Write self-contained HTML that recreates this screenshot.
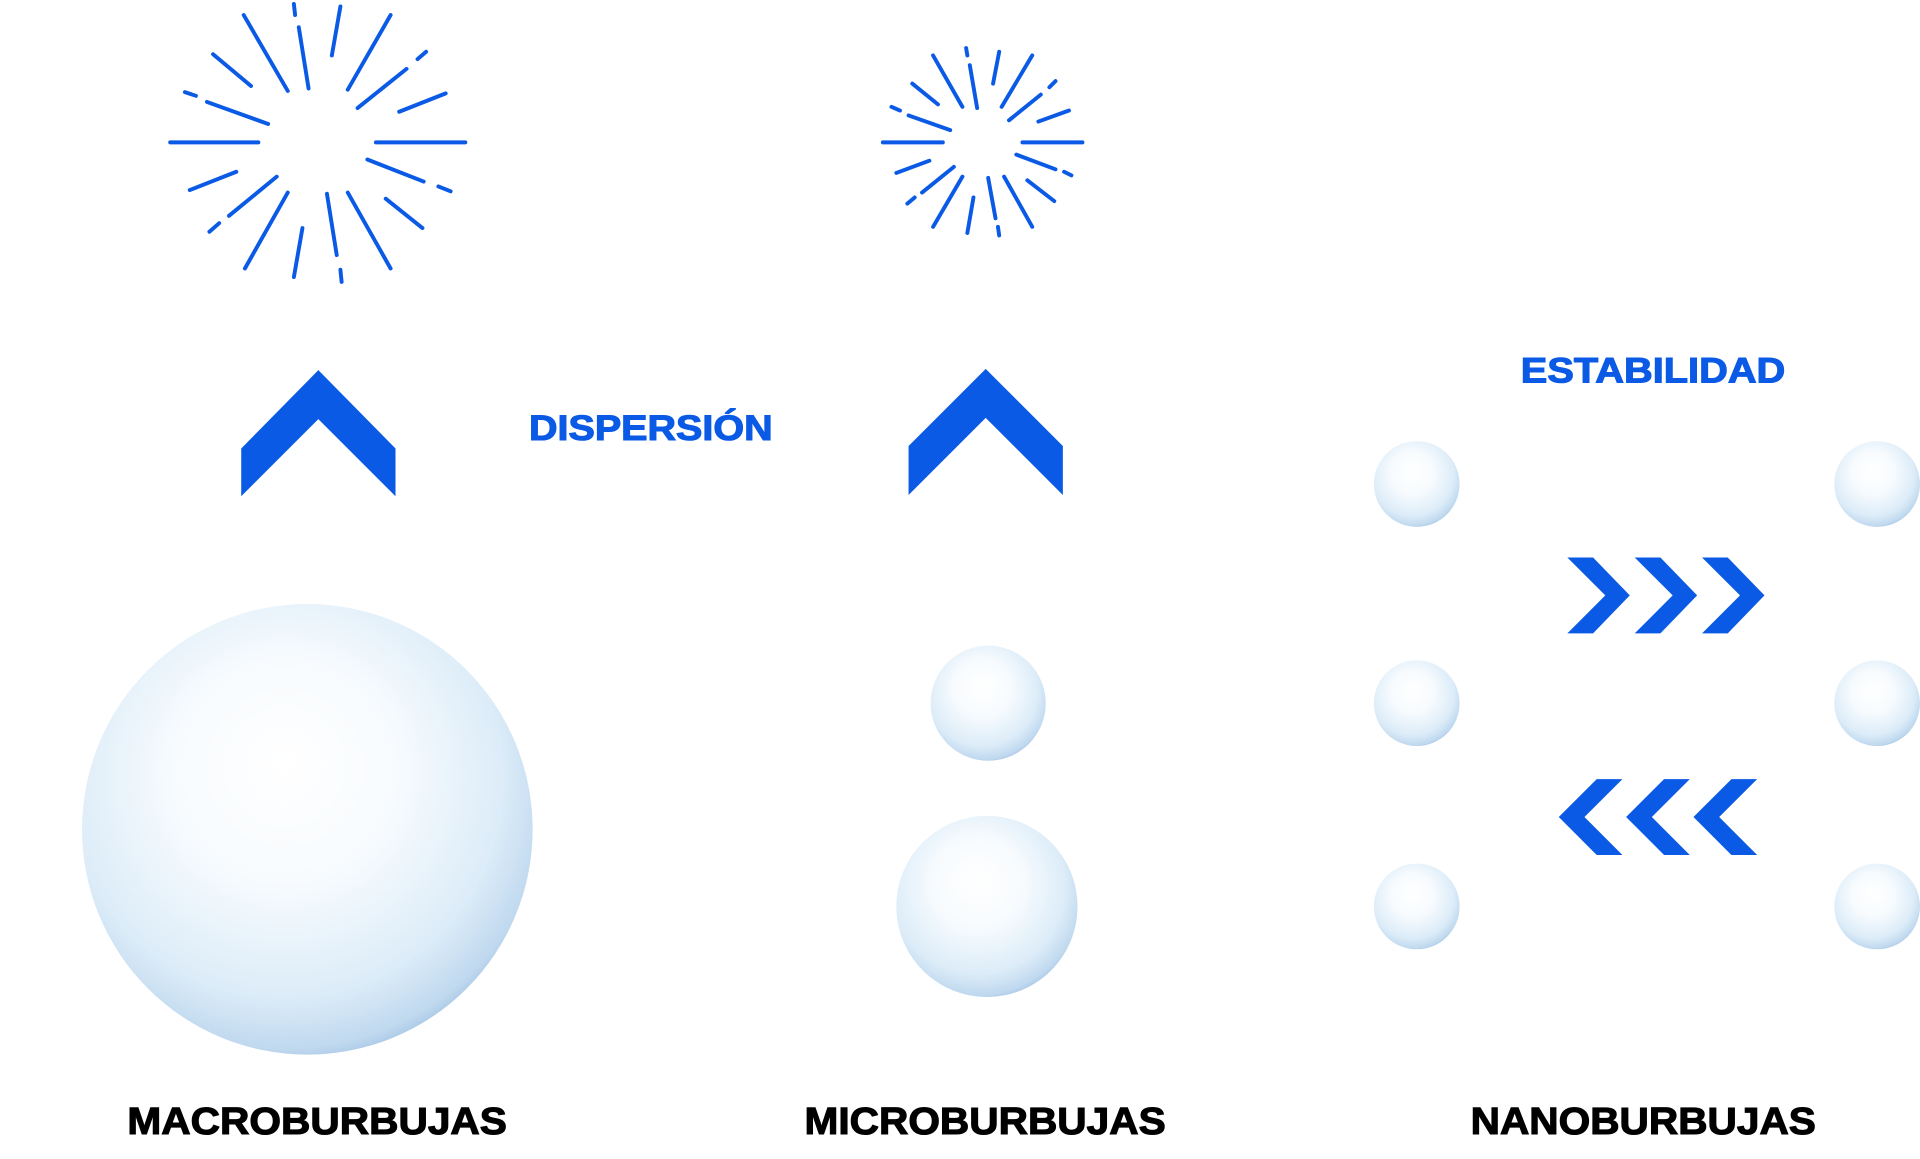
<!DOCTYPE html>
<html><head><meta charset="utf-8"><style>
html,body{margin:0;padding:0;background:#fff;}
svg{display:block;}
</style></head><body>
<svg width="1920" height="1159" viewBox="0 0 1568 946" xmlns="http://www.w3.org/2000/svg">
<defs>
<radialGradient id="bub" cx="0.45" cy="0.4" r="0.62" fx="0.45" fy="0.35">
<stop offset="0" stop-color="#ffffff"/>
<stop offset="0.4" stop-color="#f7fbfe"/>
<stop offset="0.78" stop-color="#dcecf8"/>
<stop offset="0.95" stop-color="#c0d9ef"/>
<stop offset="1" stop-color="#a9c8e6"/>
</radialGradient>
</defs>
<g stroke="#0a5ae6" stroke-width="3.2" stroke-linecap="round" fill="none">
<line x1="240" y1="3" x2="241" y2="12"/><line x1="244" y1="22" x2="252" y2="72"/>
<line x1="278" y1="5" x2="271" y2="45"/><line x1="319" y1="12" x2="284" y2="73"/>
<line x1="348" y1="42" x2="341" y2="48"/><line x1="332" y1="56" x2="292" y2="88"/>
<line x1="364" y1="76" x2="326" y2="91"/><line x1="307" y1="116" x2="380" y2="116"/>
<line x1="300" y1="130" x2="346" y2="148"/><line x1="358" y1="152" x2="368" y2="156"/>
<line x1="315" y1="162" x2="345" y2="186"/><line x1="284" y1="157" x2="319" y2="219"/>
<line x1="267" y1="158" x2="275" y2="208"/><line x1="278" y1="220" x2="279" y2="230"/>
<line x1="247" y1="186" x2="240" y2="226"/><line x1="235" y1="157" x2="200" y2="219"/>
<line x1="226" y1="144" x2="187" y2="176"/><line x1="179" y1="182" x2="171" y2="189"/>
<line x1="193" y1="140" x2="155" y2="155"/><line x1="211" y1="116" x2="139" y2="116"/>
<line x1="151" y1="75" x2="160" y2="78"/><line x1="169" y1="83" x2="219" y2="101"/>
<line x1="174" y1="44" x2="205" y2="70"/><line x1="199" y1="12" x2="235" y2="74"/>
<line x1="789" y1="39" x2="790" y2="45"/><line x1="792" y1="53" x2="798" y2="88"/>
<line x1="816" y1="42" x2="811" y2="68"/><line x1="843" y1="45" x2="818" y2="87"/>
<line x1="862" y1="66" x2="857" y2="71"/><line x1="850" y1="77" x2="824" y2="98"/>
<line x1="873" y1="90" x2="848" y2="99"/><line x1="835" y1="116" x2="884" y2="116"/>
<line x1="830" y1="126" x2="862" y2="138"/><line x1="869" y1="140" x2="875" y2="143"/>
<line x1="839" y1="147" x2="861" y2="164"/><line x1="820" y1="144" x2="843" y2="185"/>
<line x1="807" y1="145" x2="813" y2="178"/><line x1="815" y1="185" x2="816" y2="192"/>
<line x1="795" y1="161" x2="790" y2="190"/><line x1="786" y1="144" x2="762" y2="185"/>
<line x1="779" y1="136" x2="753" y2="157"/><line x1="747" y1="161" x2="741" y2="166"/>
<line x1="759" y1="131" x2="732" y2="141"/><line x1="770" y1="116" x2="721" y2="116"/>
<line x1="728" y1="87" x2="735" y2="90"/><line x1="742" y1="94" x2="776" y2="106"/>
<line x1="745" y1="68" x2="766" y2="85"/><line x1="762" y1="45" x2="786" y2="87"/>
</g>
<g fill="#0a5ae6">
<polygon points="197,366 260,302 323,366 323,405 260,342 197,405"/>
<polygon points="742,364 805,301 868,364 868,404 805,341 742,404"/>
<polygon points="1280,455 1301,455 1331,486 1301,517 1280,517 1311,486"/>
<polygon points="1335,455 1356,455 1386,486 1356,517 1335,517 1366,486"/>
<polygon points="1390,455 1411,455 1441,486 1411,517 1390,517 1421,486"/>
<polygon points="1325,636 1304,636 1273,667 1304,698 1325,698 1294,667"/>
<polygon points="1380,636 1359,636 1328,667 1359,698 1380,698 1349,667"/>
<polygon points="1435,636 1414,636 1383,667 1414,698 1435,698 1404,667"/>
</g>
<g fill="url(#bub)">
<circle cx="251" cy="677" r="184"/>
<circle cx="807" cy="574" r="47"/>
<circle cx="806" cy="740" r="74"/>
<circle cx="1157" cy="395" r="35"/><circle cx="1157" cy="574" r="35"/><circle cx="1157" cy="740" r="35"/>
<circle cx="1533" cy="395" r="35"/><circle cx="1533" cy="574" r="35"/><circle cx="1533" cy="740" r="35"/>
</g>
<g font-family="'Liberation Sans', sans-serif" font-weight="bold" stroke-width="0.9">
<text x="432" y="359" font-size="29" fill="#0a5ae6" stroke="#0a5ae6" textLength="199" lengthAdjust="spacingAndGlyphs">DISPERSIÓN</text>
<text x="1242" y="312" font-size="29" fill="#0a5ae6" stroke="#0a5ae6" textLength="216" lengthAdjust="spacingAndGlyphs">ESTABILIDAD</text>
<text x="104" y="926" font-size="31" fill="#000" stroke="#000" textLength="310" lengthAdjust="spacingAndGlyphs">MACROBURBUJAS</text>
<text x="657" y="926" font-size="31" fill="#000" stroke="#000" textLength="295" lengthAdjust="spacingAndGlyphs">MICROBURBUJAS</text>
<text x="1201" y="926" font-size="31" fill="#000" stroke="#000" textLength="282" lengthAdjust="spacingAndGlyphs">NANOBURBUJAS</text>
</g>
</svg>
</body></html>
